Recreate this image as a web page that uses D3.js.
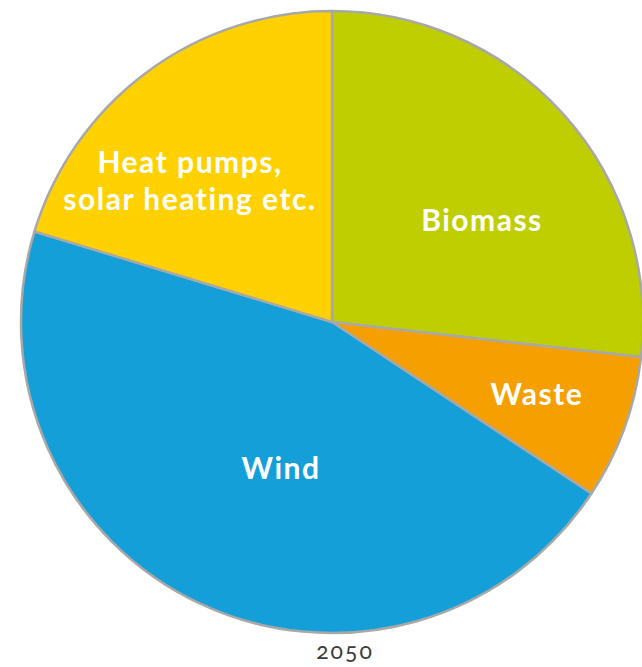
<!DOCTYPE html>
<html lang="en">
<head>
    <meta charset="UTF-8">
    <title>2050</title>
    <script src="https://d3js.org/d3.v7.min.js"></script>
    <style>
        body {
            margin: 0;
            background: white;
        }
        svg {
            display: block;
        }
    </style>
</head>
<body>
    <svg></svg>
    <script>
        // Data: shares, clockwise from 12 o'clock
        var categories = ["Biomass", "Waste", "Wind", "Heat pumps,\nsolar heating etc."];
        var values = [26.8, 7.5, 45.4, 20.3];
        var colors = ["#bfce00", "#f5a000", "#159fd9", "#ffd100"];
        var yearLabel = "2050";

        var width = 642, height = 667;
        var cx = 332, cy = 322, radius = 311;

        var svg = d3.select("svg").attr("width", width).attr("height", height);

        var data = categories.map(function(c, i) {
            return {name: c, value: values[i], color: colors[i]};
        });

        var pie = d3.pie().sort(null).value(function(d) { return d.value; });
        var arc = d3.arc().innerRadius(0).outerRadius(radius);

        var g = svg.append("g").attr("transform", "translate(" + cx + "," + cy + ")");

        var arcs = pie(data);

        g.selectAll("path")
            .data(arcs).enter().append("path")
            .attr("d", arc)
            .attr("fill", function(d) { return d.data.color; })
            .attr("stroke", "#a8a8a8")
            .attr("stroke-width", 2.5)
            .attr("stroke-linejoin", "round");

        // label placement: radius + small nudge per slice
        var labelR = [181, 218, 155, 200];
        var nudge = [[15, 19], [0, -2], [15, 6], [-23, 20]];

        arcs.forEach(function(d, i) {
            var la = d3.arc().innerRadius(labelR[i]).outerRadius(labelR[i]);
            var c = la.centroid(d);
            var lines = d.data.name.split("\n");
            var lh = 37;
            var t = g.append("text")
                .attr("text-anchor", "middle")
                .attr("fill", "white")
                .style("font-family", "Lato, 'Open Sans', sans-serif")
                .style("font-weight", "700")
                .style("font-size", "30px")
                .style("letter-spacing", "1.5px");
            lines.forEach(function(line, j) {
                t.append("tspan")
                    .attr("x", c[0] + nudge[i][0])
                    .attr("y", c[1] + nudge[i][1] + (j - (lines.length - 1) / 2) * lh)
                    .attr("dy", "0.35em")
                    .text(line);
            });
        });

        svg.append("text")
            .attr("x", 345)
            .attr("y", 659)
            .attr("text-anchor", "middle")
            .attr("fill", "#3a3a3a")
            .style("font-family", "Lato, sans-serif")
            .style("font-size", "23px")
            .style("letter-spacing", "2px")
            .style("font-feature-settings", "'onum' 1")
            .text(yearLabel);
    </script>
</body>
</html>
